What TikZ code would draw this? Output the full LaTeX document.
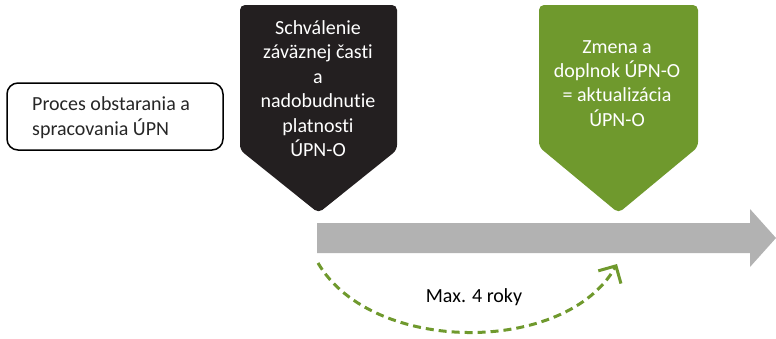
\documentclass[tikz,border=0pt]{standalone}
\usepackage{fontspec}
\setmainfont{Carlito}[Ligatures={NoCommon}, Contextuals={NoAlternate}]
\usetikzlibrary{arrows.meta}
\definecolor{milestoneblack}{HTML}{231F20}
\definecolor{milestonegreen}{HTML}{6F992D}
\definecolor{timelinegray}{HTML}{B2B2B2}
\definecolor{labelgray}{HTML}{262626}
\tikzset{
  bodytext/.style={font=\fontsize{20}{24.4}\selectfont, inner sep=0pt},
  milestonetext/.style={bodytext, text=white, align=center},
  pentagon/.style={rounded corners=5pt},
  periodarc/.style={milestonegreen, line width=3pt, dash pattern=on 8pt off 5pt,
    -{Straight Barb[length=13pt, width=26pt, line width=3pt]}},
}
\begin{document}
\begin{tikzpicture}[x=1pt, y=-1pt]
  \useasboundingbox (0,0) rectangle (776,338);

  % preparation phase box
  \node[draw=black, line width=1.5pt, rounded corners=11pt, minimum width=216pt,
        minimum height=67pt, inner sep=0pt] (proc) at (115,116.5) {};
  \node[bodytext, text=labelgray, align=left, anchor=west] (proctext) at (32,117.7)
    {Proces obstarania a\\spracovania ÚPN};

  % timeline arrow
  \fill[timelinegray] (317,223) -- (750,223) -- (750,209) -- (776,238)
    -- (750,267) -- (750,253) -- (317,253) -- cycle;

  % approval milestone
  \fill[milestoneblack, pentagon] (240,5) -- (397,5) -- (397,150) -- (318.5,213)
    -- (240,150) -- cycle;
  \node[milestonetext] (approval) at (318,88.7)
    {Schválenie\\záväznej časti\\a\\nadobudnutie\\platnosti\\ÚPN-O};

  % update milestone
  \fill[milestonegreen, pentagon] (539,5) -- (698,5) -- (698,147) -- (618.5,213)
    -- (539,147) -- cycle;
  \node[milestonetext] (update) at (617,83.4)
    {Zmena a\\doplnok ÚPN-O\\= aktualizácia\\ÚPN-O};

  % period between the two milestones
  \coordinate (arcstart) at (318,263);
  \coordinate (arcend) at (617,264);
  \draw[periodarc] (arcstart) .. controls (372,355) and (566,355) .. (arcend);
  \node[bodytext, anchor=base] (period) at (474,302.7) {Max. 4 roky};
\end{tikzpicture}
\end{document}
